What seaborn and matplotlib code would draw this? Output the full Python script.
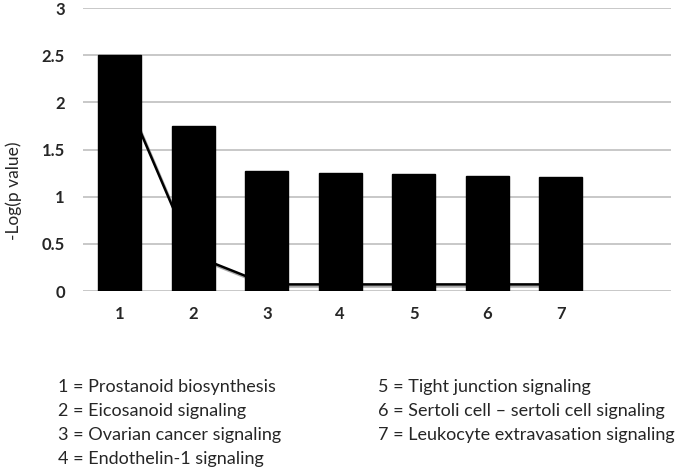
import pandas as pd
import numpy as np
import matplotlib
matplotlib.use('Agg')
import matplotlib.pyplot as plt
import matplotlib.patheffects as pe
import seaborn as sns

# values
categories = ['1', '2', '3', '4', '5', '6', '7']
bar_values = [2.5, 1.75, 1.27, 1.25, 1.24, 1.22, 1.21]
line_values = [2.2, 0.38, 0.07, 0.07, 0.07, 0.07, 0.07]
legend_left = ['1 = Prostanoid biosynthesis', '2 = Eicosanoid signaling',
               '3 = Ovarian cancer signaling', '4 = Endothelin-1 signaling']
legend_right = ['5 = Tight junction signaling',
                '6 = Sertoli cell \u2013 sertoli cell signaling',
                '7 = Leukocyte extravasation signaling']

sns.set_style('white')
plt.rcParams['font.family'] = ['Lato', 'DejaVu Sans']

data = pd.DataFrame({'cat': categories, 'val': bar_values})

fig = plt.figure(figsize=(6.83, 4.69), dpi=100)
ax = fig.add_axes([83 / 683, 1 - 291 / 469, 588 / 683, 283 / 469])

# grid lines
ax.set_axisbelow(True)
ax.yaxis.grid(True, color='#bfbfbf', linewidth=1.2)

# bars
sns.barplot(x='cat', y='val', data=data, color='black', edgecolor='black',
            width=0.585, saturation=1, ax=ax, zorder=2)

# line behind the bars, with a light shadow
sns.lineplot(x=np.arange(len(categories)), y=line_values, color='black',
             linewidth=1.8, ax=ax, zorder=1,
             path_effects=[pe.SimpleLineShadow(offset=(1.2, -1.5), shadow_color='#888888', alpha=0.7),
                           pe.Normal()])

ax.set_xlim(-0.5, 7.5)
ax.set_ylim(0, 3)
ax.set_yticks([0, 0.5, 1, 1.5, 2, 2.5, 3])
ax.set_yticklabels(['0', '0.5', '1', '1.5', '2', '2.5', '3'])
for s in ['top', 'right', 'left', 'bottom']:
    ax.spines[s].set_visible(False)
ax.tick_params(axis='both', length=0, labelsize=12)
ax.tick_params(axis='y', pad=13)
ax.tick_params(axis='x', pad=11)
for t in ax.get_xticklabels() + ax.get_yticklabels():
    t.set_fontweight('bold')
ax.set_xlabel('')
ax.set_ylabel('-Log(p value)', fontsize=12.5)
ax.yaxis.set_label_coords((22 - 83) / 588, (291 - 191) / 283)

# legend text under the chart
y0 = 1 - 387 / 469
step = 24 / 469
for i, txt in enumerate(legend_left):
    fig.text(58 / 683, y0 - i * step, txt, fontsize=13, va='center')
for i, txt in enumerate(legend_right):
    fig.text(378 / 683, y0 - i * step, txt, fontsize=13, va='center')

plt.savefig('out.png', dpi=100)
